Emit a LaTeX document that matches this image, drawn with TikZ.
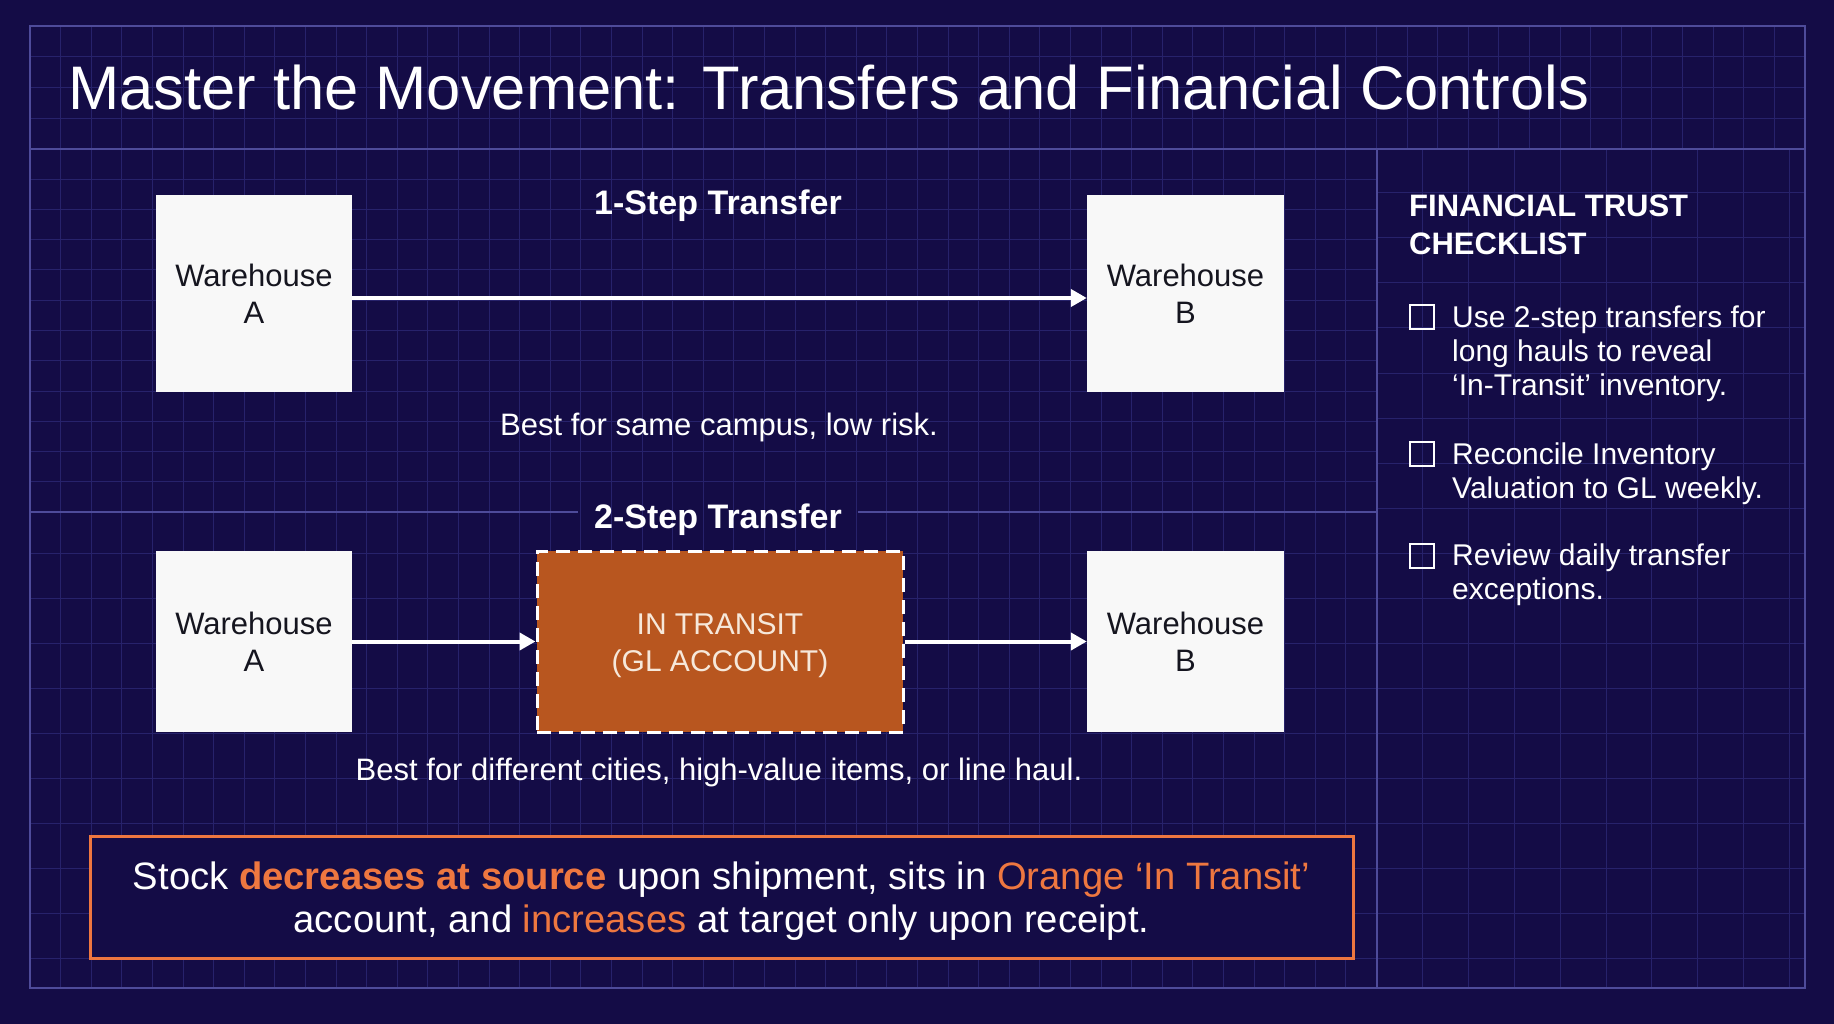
\documentclass[tikz,border=0pt]{standalone}
\usepackage{fontspec}
\setmainfont{Liberation Sans}
\usetikzlibrary{arrows.meta}
\definecolor{bg}{HTML}{140C46}
\definecolor{gridc}{HTML}{27226B}
\definecolor{framec}{HTML}{4E4B9A}
\definecolor{boxw}{HTML}{F8F8F8}
\definecolor{boxtxt}{HTML}{15151F}
\definecolor{transit}{HTML}{B8561F}
\definecolor{accent}{HTML}{EE7740}
\definecolor{cream}{HTML}{F6E8DA}
\newcommand{\myfs}[2]{\fontsize{#1}{#2}\selectfont}
\begin{document}
\begin{tikzpicture}[x=1pt,y=-1pt,
  gridline/.style={draw=gridc,line width=1pt},
  framel/.style={draw=framec,line width=2pt},
  whbox/.style={fill=boxw,draw=none,inner sep=0pt,align=center,text=boxtxt,font=\myfs{31}{37}},
  transitbox/.style={fill=transit,draw=white,line width=3pt,dash pattern=on 14pt off 8pt,inner sep=0pt},
  transittext/.style={align=center,text=cream,font=\myfs{30}{37},inner sep=0pt},
  arr/.style={draw=white,line width=4pt,-{Triangle[length=16pt,width=17pt]}},
  steplabel/.style={text=white,font=\bfseries\myfs{34}{40},inner sep=0pt},
  bestlabel/.style={text=white,font=\myfs{31}{37},inner sep=0pt},
  chkhead/.style={text=white,font=\bfseries\myfs{31}{38},anchor=base west,inner sep=0pt},
  chkitem/.style={text=white,font=\myfs{30}{34},anchor=base west,inner sep=0pt},
  chkbox/.style={draw=white,line width=2.5pt,minimum size=24pt,inner sep=0pt},
  notebox/.style={draw=accent,line width=3pt,fill=bg,inner sep=0pt},
  notetext/.style={align=center,text=white,font=\myfs{38.2}{43},inner sep=0pt}
]
\fill[bg] (0,0) rectangle (1834,1024);
\useasboundingbox (0,0) rectangle (1834,1024);

% ---- grid ----
\foreach \i in {1,...,57} \draw[gridline] ({30+\i*30.6},26) -- ({30+\i*30.6},149);
\foreach \i in {1,...,43} \draw[gridline] ({30+\i*30.6},149) -- ({30+\i*30.6},988);
\foreach \k in {1,2,3} \draw[gridline] (30,{26+\k*30.75}) -- (1805,{26+\k*30.75});
\foreach \k in {1,...,11} \draw[gridline] (30,{149+\k*30.25}) -- (1377,{149+\k*30.25});
\foreach \k in {1,...,10} \draw[gridline] (30,{508+\k*45}) -- (1377,{508+\k*45});
\foreach \k in {1,...,9} \draw[gridline] ({1377+\k*45.8},149) -- ({1377+\k*45.8},988);
\foreach \k in {0,...,17} \draw[gridline] (1377,{193+\k*45}) -- (1805,{193+\k*45});

% ---- frame ----
\draw[framel] (30,26) rectangle (1805,988);
\draw[framel] (30,149) -- (1805,149);
\draw[framel] (1377,149) -- (1377,988);

% ---- title ----
\node[anchor=base west,inner sep=0pt,text=white,font=\myfs{61.5}{70}] (title) at (68,110) {Master the Movement: Transfers and Financial Controls};

% ---- 1-step ----
\node[steplabel] (step1) at (718,205.5) {1-Step Transfer};
\node[whbox,minimum width=196pt,minimum height=197pt] (wa1) at (254,293.5) {Warehouse\\A};
\node[whbox,minimum width=197pt,minimum height=197pt] (wb1) at (1185.5,293.5) {Warehouse\\B};
\draw[arr] ([yshift=-4.5pt]wa1.east) -- ([yshift=-4.5pt]wb1.west);
\node[bestlabel] (best1) at (719,427) {Best for same campus, low risk.};

% ---- 2-step ----
\node[steplabel,inner xsep=16pt] (step2) at (718,520) {2-Step Transfer};
\draw[framel] (30,512) -- (step2.west |- 0,512);
\draw[framel] (step2.east |- 0,512) -- (1377,512);
\node[whbox,minimum width=196pt,minimum height=181pt] (wa2) at (254,641.5) {Warehouse\\A};
\node[transitbox,minimum width=366pt,minimum height=181pt] (tr) at (720,641.5) {};
\node[transittext] (trlabel) at ([yshift=-4pt]tr.center) {IN TRANSIT\\(GL ACCOUNT)};
\node[whbox,minimum width=197pt,minimum height=181pt] (wb2) at (1185.5,641.5) {Warehouse\\B};
\draw[arr] (wa2.east) -- (tr.west);
\draw[arr] (tr.east) -- (wb2.west);
\node[bestlabel] (best2) at (719,772) {Best for different cities, high-value items, or line haul.};

% ---- note ----
\node[notebox,minimum width=1263pt,minimum height=122pt] (note) at (721.5,897) {};
\node[notetext] (notelabel) at ([yshift=-4.5pt]note.center) {Stock {\bfseries\color{accent}decreases at source} upon shipment, sits in {\color{accent}Orange ‘In Transit’}\\account, and {\color{accent}increases} at target only upon receipt.};

% ---- checklist ----
\node[chkhead] (h1) at (1409,217) {FINANCIAL TRUST};
\node[chkhead] (h2) at (1409,255) {CHECKLIST};
\node[chkbox] (c1) at (1422,317) {};
\node[chkitem] (i1a) at (1452,327) {Use 2-step transfers for};
\node[chkitem] (i1b) at (1452,361) {long hauls to reveal};
\node[chkitem] (i1c) at (1452,395) {‘In-Transit’ inventory.};
\node[chkbox] (c2) at (1422,454) {};
\node[chkitem] (i2a) at (1452,464) {Reconcile Inventory};
\node[chkitem] (i2b) at (1452,498) {Valuation to GL weekly.};
\node[chkbox] (c3) at (1422,556) {};
\node[chkitem] (i3a) at (1452,565) {Review daily transfer};
\node[chkitem] (i3b) at (1452,599) {exceptions.};
\end{tikzpicture}
\end{document}
